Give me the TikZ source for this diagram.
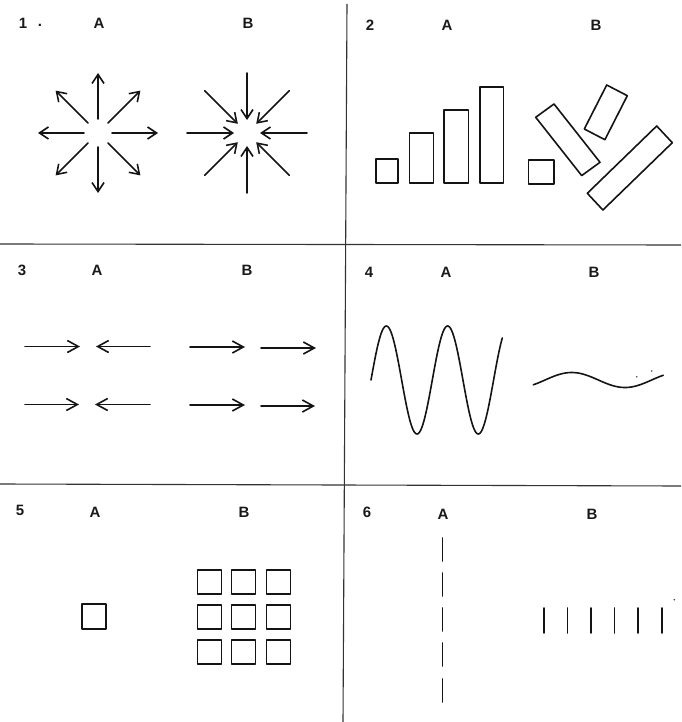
\documentclass[tikz,border=0pt]{standalone}
\usepackage{fontspec}
\setmainfont{Liberation Sans}
\usetikzlibrary{arrows.meta}
\begin{document}
\begin{tikzpicture}[x=1pt,y=-1pt,
  ink/.style={draw=black!92, line width=1.6pt, line cap=round, line join=round},
  grid/.style={draw=black!80, line width=1.1pt},
  arrA/.style={ink, -{Straight Barb[length=9pt,width=12pt]}},
  arrC/.style={ink, -{Straight Barb[length=11pt,width=12pt]}},
  lab/.style={font=\bfseries\fontsize{15}{16}\selectfont, inner sep=0pt, text=black!90},
  speck/.style={fill=black!70}]
\useasboundingbox (0,0) rectangle (681,722);
% grid
\draw[grid] (347,4) -- (343,722);
\draw[grid] (0,244) -- (681,245);
\draw[grid] (0,484) -- (681,486);
% labels
\node[lab] (n1) at (23,23) {1};
\node[lab] (n1d) at (40,25) {.};
\node[lab] (a1) at (99,23) {A};
\node[lab] (b1) at (248,23) {B};
\node[lab] (n2) at (370,25) {2};
\node[lab] (a2) at (447,25) {A};
\node[lab] (b2) at (596,25) {B};
\node[lab] (n3) at (22,270) {3};
\node[lab] (a3) at (97,270) {A};
\node[lab] (b3) at (247,270) {B};
\node[lab] (n4) at (369,272) {4};
\node[lab] (a4) at (446,272) {A};
\node[lab] (b4) at (594,272) {B};
\node[lab] (n5) at (20,510) {5};
\node[lab] (a5) at (95,512) {A};
\node[lab] (b5) at (244,512) {B};
\node[lab] (n6) at (367,512) {6};
\node[lab] (a6) at (443,514) {A};
\node[lab] (b6) at (592,514) {B};
% panel 1
\foreach \a in {0,45,...,315} {
  \draw[arrA] ([shift={(98,133)}]\a:14) -- ([shift={(98,133)}]\a:60);
  \draw[arrA] ([shift={(247,133)}]\a:60) -- ([shift={(247,133)}]\a:13);
}
% panel 2
\draw[ink] (376,159) rectangle (398,183);
\draw[ink] (409.5,133) rectangle (433.5,183);
\draw[ink] (444,110) rectangle (468.5,183);
\draw[ink] (480,87) rectangle (503.5,183);
\draw[ink] (528.5,160) rectangle (554,184);
\draw[ink] (535.7,117.3) -- (554,104) -- (600,162.3) -- (581.7,175.6) -- cycle;
\draw[ink] (584.3,129) -- (606.7,85) -- (627.3,95.7) -- (604.9,139.7) -- cycle;
\draw[ink] (587.3,193.3) -- (656.7,126) -- (672.3,142.7) -- (602.9,210) -- cycle;
% panel 3
\draw[arrC] (25,346.5) -- (80,346.5);
\draw[arrC] (150,346.5) -- (96,346.5);
\draw[arrC] (25,404.5) -- (79,404.5);
\draw[arrC] (150,404.5) -- (95,404.5);
\draw[arrC] (190,347) -- (245,347);
\draw[arrC] (261,348) -- (316,348);
\draw[arrC] (190,405) -- (245,405);
\draw[arrC] (261,406) -- (315,406);
% panel 4
\draw[ink] plot[domain=371:502.3, samples=160, smooth] (\x, {380 - 54*sin((\x-371)/61.3*360)});
\draw[ink] plot[domain=533.3:663.3, samples=80, smooth] (\x, {380 - 7.5*cos((\x-571.7)/106.6*360)});
\fill[speck] (636.7,376.7) circle (0.9);
\fill[speck] (651.7,371) circle (0.9);
% panel 5
\draw[ink] (82,604) rectangle (106,629);
\foreach \cx in {209.5,243.5,278.5} {
  \foreach \cy in {582,617,652} {
    \draw[ink] (\cx-12,\cy-12.2) rectangle (\cx+12,\cy+12.2);
  }
}
% panel 6
\foreach \y in {538,573,608,643,679} {
  \draw[ink] (442.3,\y) -- (442.3,\y+23);
}
\foreach \x in {544,567.3,591,614.3,637.7,661.7} {
  \draw[ink] (\x,608) -- (\x,633);
}
\fill[speck] (674.3,599.7) circle (0.9);
\end{tikzpicture}
\end{document}
